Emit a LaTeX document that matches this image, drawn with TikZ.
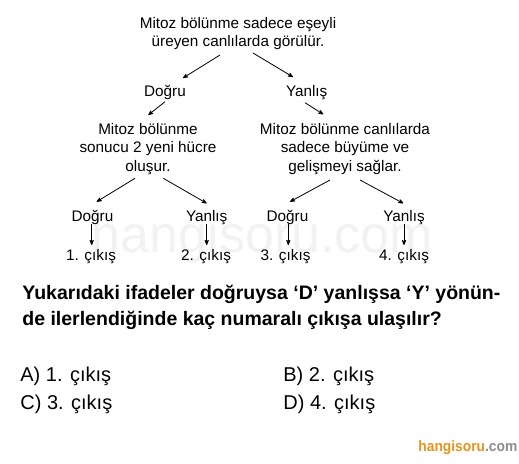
\documentclass[tikz,border=0pt]{standalone}
\usepackage{fontspec}
\setmainfont{Liberation Sans}
\usepackage{graphicx}
\usetikzlibrary{arrows}
\definecolor{logoorange}{RGB}{232,146,28}
\definecolor{logogray}{RGB}{140,140,140}
\tikzset{
  kutu/.style = {align=center, inner sep=0pt, anchor=base,
    font=\fontsize{15.3}{18.5}\selectfont},% ifade, dogru/yanlis, cikis
  soru/.style = {anchor=base west, inner sep=0pt,
    font=\fontsize{19.5}{28}\selectfont\bfseries},% soru metni
  sik/.style = {anchor=base west, inner sep=0pt,
    font=\fontsize{20}{24}\selectfont}% secenekler
}
\begin{document}
\begin{tikzpicture}[->,>=stealth',x=1pt,y=-1pt,line width=0.8pt]
\useasboundingbox (0,0) rectangle (519,463);
% filigran
\node[kutu, font=\fontsize{52}{52}\selectfont, text=black!5] (filigran)
  at (262.5,252) {hangisoru.com};
% agac (cok satirli dugumlerde base = son satir)
\node[kutu] (kok) at (238,46.5) {Mitoz bölünme sadece eşeyli\\üreyen canlılarda görülür.};
\node[kutu] (d1) at (165,96.7) {Doğru};
\node[kutu] (y1) at (306.7,96.7) {Yanlış};
\node[kutu] (sol) at (148,171) {Mitoz bölünme\\sonucu 2 yeni hücre\\oluşur.};
\node[kutu] (sag) at (345,171) {Mitoz bölünme canlılarda\\sadece büyüme ve\\gelişmeyi sağlar.};
\node[kutu] (d2) at (92.5,221) {Doğru};
\node[kutu] (y2) at (206.7,221) {Yanlış};
\node[kutu] (d3) at (287.5,221) {Doğru};
\node[kutu] (y3) at (404,221) {Yanlış};
\node[kutu] (c1) at (91,260) {1. çıkış};
\node[kutu] (c2) at (206,260) {2. çıkış};
\node[kutu] (c3) at (285.5,260) {3. çıkış};
\node[kutu] (c4) at (404,260) {4. çıkış};
\draw ([xshift=-18pt,yshift=-8.5pt]kok.base) -- ([xshift=18pt,yshift=18.7pt]d1.base);
\draw ([xshift=15pt,yshift=-6.5pt]kok.base) -- ([xshift=-13.7pt,yshift=19.7pt]y1.base);
\draw ([yshift=-5pt]d1.base) -- ([xshift=0.3pt,yshift=56pt]sol.base);
\draw ([xshift=-1.7pt,yshift=-6pt]y1.base) -- ([xshift=-21.7pt,yshift=56.7pt]sag.base);
\draw ([xshift=-13pt,yshift=-7.3pt]sol.base) -- ([xshift=4.2pt,yshift=19.3pt]d2.base);
\draw ([xshift=15.3pt,yshift=-7.3pt]sol.base) -- ([yshift=17.7pt]y2.base);
\draw ([xshift=-15pt,yshift=-9pt]sag.base) -- ([xshift=2.5pt,yshift=19.3pt]d3.base);
\draw ([xshift=15pt,yshift=-9pt]sag.base) -- ([xshift=-0.7pt,yshift=17.7pt]y3.base);
\draw ([xshift=-0.8pt,yshift=-3pt]d2.base) -- ([xshift=0.7pt,yshift=15pt]c1.base);
\draw ([yshift=-3pt]y2.base) -- ([xshift=0.7pt,yshift=15pt]c2.base);
\draw ([xshift=0.8pt,yshift=-3pt]d3.base) -- ([xshift=2.8pt,yshift=15pt]c3.base);
\draw ([yshift=-3pt]y3.base) -- ([yshift=15pt]c4.base);
% soru ve secenekler
\node[soru] (soru1) at (22,299.3) {\makebox[478pt][s]{Yukarıdaki ifadeler doğruysa ‘D’ yanlışsa ‘Y’ yönün-}};
\node[soru] (soru2) at (22,325.5) {de ilerlendiğinde kaç numaralı çıkışa ulaşılır?};
\node[sik] (sikA) at (20,381) {A) 1. çıkış};
\node[sik] (sikB) at (283,381) {B) 2. çıkış};
\node[sik] (sikC) at (20,409.3) {C) 3. çıkış};
\node[sik] (sikD) at (283,409.3) {D) 4. çıkış};
% logo
\node[anchor=base west, inner sep=0pt, font=\fontsize{15}{15}\selectfont\bfseries]
  (logo) at (418,451.7) {\scalebox{0.92}[1]{\textcolor{logoorange}{hangisoru}\textcolor{logogray}{.com}}};
\end{tikzpicture}
\end{document}
